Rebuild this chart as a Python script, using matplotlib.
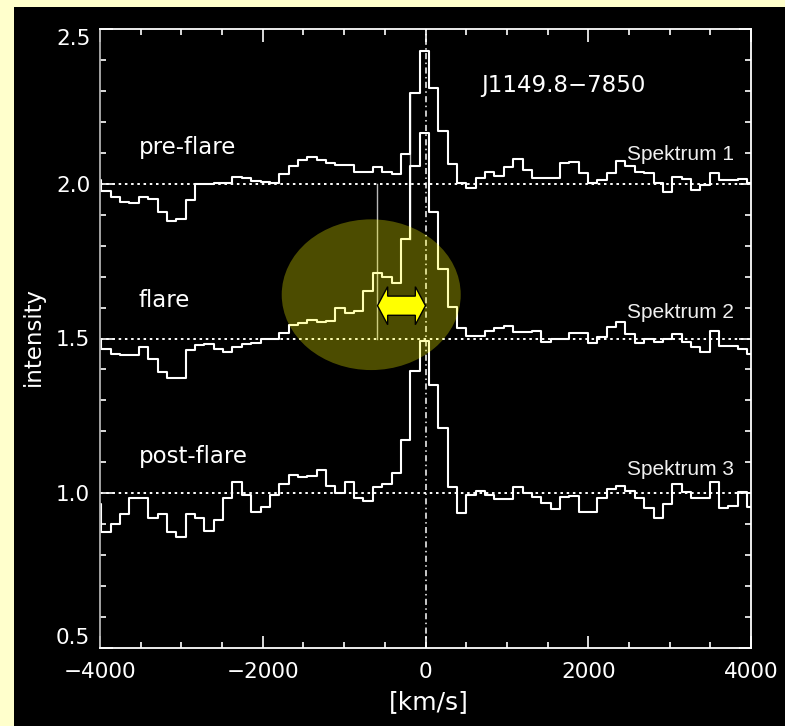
import numpy as np
import matplotlib
matplotlib.use("Agg")
import matplotlib.pyplot as plt
from matplotlib.patches import Rectangle, Ellipse, Polygon
from matplotlib.ticker import MultipleLocator, FormatStrFormatter

# ---------------- data ----------------
bin_start = -4040          # centre of first (partial) bin, km/s
bin_width = 115            # km/s
n_bins = 71
velocity = bin_start + bin_width * np.arange(n_bins)

spec_pre = [2.012, 1.978, 1.956, 1.942, 1.937, 1.958, 1.950, 1.910, 1.880, 1.886,
            1.947, 1.999, 1.998, 2.001, 2.003, 2.023, 2.018, 2.010, 2.006, 2.001,
            2.030, 2.057, 2.076, 2.085, 2.078, 2.066, 2.060, 2.062, 2.039, 2.037,
            2.055, 2.039, 2.031, 2.096, 2.294, 2.430, 2.308, 2.170, 2.064, 2.001,
            1.987, 2.020, 2.039, 2.025, 2.055, 2.079, 2.044, 2.018, 2.018, 2.020,
            2.068, 2.071, 2.034, 2.003, 2.012, 2.034, 2.074, 2.058, 2.039, 2.036,
            2.001, 1.972, 2.023, 2.014, 1.980, 1.996, 2.036, 2.012, 2.012, 2.014,
            2.003]

spec_flare = [1.500, 1.465, 1.450, 1.447, 1.447, 1.474, 1.433, 1.393, 1.371, 1.371,
              1.463, 1.479, 1.481, 1.466, 1.457, 1.474, 1.481, 1.486, 1.497, 1.498,
              1.519, 1.544, 1.551, 1.560, 1.554, 1.558, 1.598, 1.584, 1.590, 1.654,
              1.713, 1.700, 1.678, 1.820, 2.057, 2.165, 1.908, 1.724, 1.603, 1.533,
              1.508, 1.508, 1.525, 1.533, 1.541, 1.520, 1.520, 1.525, 1.490, 1.500,
              1.500, 1.517, 1.517, 1.486, 1.506, 1.538, 1.552, 1.514, 1.486, 1.500,
              1.490, 1.497, 1.514, 1.490, 1.472, 1.455, 1.525, 1.476, 1.476, 1.466,
              1.449]

spec_post = [0.964, 0.876, 0.901, 0.933, 0.986, 0.986, 0.921, 0.933, 0.876, 0.860,
             0.933, 0.921, 0.878, 0.914, 0.986, 1.037, 0.994, 0.940, 0.955, 0.994,
             1.030, 1.059, 1.051, 1.056, 1.075, 1.023, 1.002, 1.037, 0.984, 0.975,
             1.019, 1.029, 1.064, 1.173, 1.396, 1.493, 1.350, 1.210, 1.020, 0.935,
             0.994, 1.008, 0.994, 0.980, 0.980, 1.019, 1.002, 0.987, 0.967, 0.949,
             0.989, 0.991, 0.938, 0.938, 0.984, 1.013, 1.023, 1.008, 0.984, 0.951,
             0.919, 0.965, 1.029, 1.005, 0.986, 0.986, 1.037, 0.951, 0.959, 1.005,
             0.957]

baselines = [2.0, 1.5, 1.0]
phase_labels = ["pre-flare", "flare", "post-flare"]
phase_label_y = [2.096, 1.601, 1.097]
spectrum_labels = ["Spektrum 1", "Spektrum 2", "Spektrum 3"]
spectrum_label_y = [2.077, 1.565, 1.059]
object_name = "J1149.8\u22127850"

x_ticks = [-4000, -2000, 0, 2000, 4000]
y_ticks = [0.5, 1.0, 1.5, 2.0, 2.5]

# ---------------- figure ----------------
W, H = 785, 726
fig = plt.figure(figsize=(W / 100, H / 100), dpi=100, facecolor="#FFFFCC")
fig.patches.append(Rectangle((14 / W, 0), 1 - 14 / W, 1 - 7 / H,
                             transform=fig.transFigure, facecolor="black",
                             edgecolor="none", zorder=-5))

ax = fig.add_axes([100 / W, 1 - 648 / H, 651 / W, 619 / H])
ax.set_facecolor("black")
ax.set_xlim(-4000, 4000)
ax.set_ylim(0.5, 2.5)

# reference lines
for b in baselines:
    ax.axhline(b, color="white", lw=1.4, ls=(0, (1.3, 1.9)), zorder=2)
ax.axvline(0, color="white", lw=1.1, ls=(0, (4, 2.2, 1, 2.2)), zorder=2)

# grey marker lines
ax.plot([-590, -590], [2.0, 1.5], color="#B8B8B8", lw=1.0, zorder=2)
ax.plot([-187.5, -187.5], [2.29, 1.82], color="#B8B8B8", lw=1.0, zorder=2)

# spectra
for spec in (spec_pre, spec_flare, spec_post):
    ax.step(velocity, spec, where="mid", color="white", lw=1.5, zorder=3)

# highlight ellipse
ax.add_patch(Ellipse((-667, 1.6415), width=2200, height=0.487,
                     facecolor="yellow", edgecolor="none", alpha=0.3, zorder=4))

# double arrow between the two peaks
x0, x1, yc = -590, 0, 1.606
hl, hh, sh = 125, 0.0615, 0.031
arrow_pts = [(x0, yc), (x0 + hl, yc + hh), (x0 + hl, yc + sh), (x1 - hl, yc + sh),
             (x1 - hl, yc + hh), (x1, yc), (x1 - hl, yc - hh), (x1 - hl, yc - sh),
             (x0 + hl, yc - sh), (x0 + hl, yc - hh)]
ax.add_patch(Polygon(arrow_pts, closed=True, facecolor="#FFFF00",
                     edgecolor="black", lw=1.0, zorder=5))

# texts
for lab, yy in zip(phase_labels, phase_label_y):
    ax.text(-3525, yy, lab, color="white", fontsize=16.5, family="DejaVu Sans",
            ha="left", va="baseline", zorder=6)
for lab, yy in zip(spectrum_labels, spectrum_label_y):
    ax.text(3795, yy, lab, color="#F0F0F0", fontsize=15, family="Liberation Sans",
            ha="right", va="baseline", zorder=6)
ax.text(690, 2.297, object_name, color="white", fontsize=16.5, family="DejaVu Sans",
        ha="left", va="baseline", zorder=6)

# axes styling
ax.xaxis.set_major_locator(plt.FixedLocator(x_ticks))
ax.xaxis.set_minor_locator(MultipleLocator(500))
ax.yaxis.set_major_locator(plt.FixedLocator(y_ticks))
ax.yaxis.set_minor_locator(MultipleLocator(0.1))
ax.yaxis.set_major_formatter(FormatStrFormatter("%.1f"))
ax.tick_params(which="both", direction="in", top=True, right=True,
               colors="white", labelsize=15.5, width=1.2)
ax.tick_params(which="major", length=9)
ax.tick_params(which="minor", length=4.5)
ax.tick_params(axis="x", pad=10)
ax.tick_params(axis="y", pad=7)
for name, sp in ax.spines.items():
    sp.set_color("white")
    sp.set_linewidth(1.3)
    sp.set_zorder(7)
ax.spines["left"].set_color("#B0B0B0")

fig.text(429 / W, 1 - 702 / H, "[km/s]", color="white", fontsize=18,
         family="DejaVu Sans", ha="center", va="center")
fig.text(33.5 / W, 1 - 336 / H, "intensity", color="white", fontsize=16.5,
         family="DejaVu Sans", rotation=90, ha="center", va="center")

# end labels of the y axis sit inside the frame, as in the original
fig.canvas.draw()
ylabels = ax.get_yticklabels()
ylabels[0].set_va("bottom")
ylabels[-1].set_va("top")
for lab in ax.get_xticklabels() + ylabels:
    lab.set_family("DejaVu Sans")

fig.savefig("out.png", dpi=100, facecolor=fig.get_facecolor())
